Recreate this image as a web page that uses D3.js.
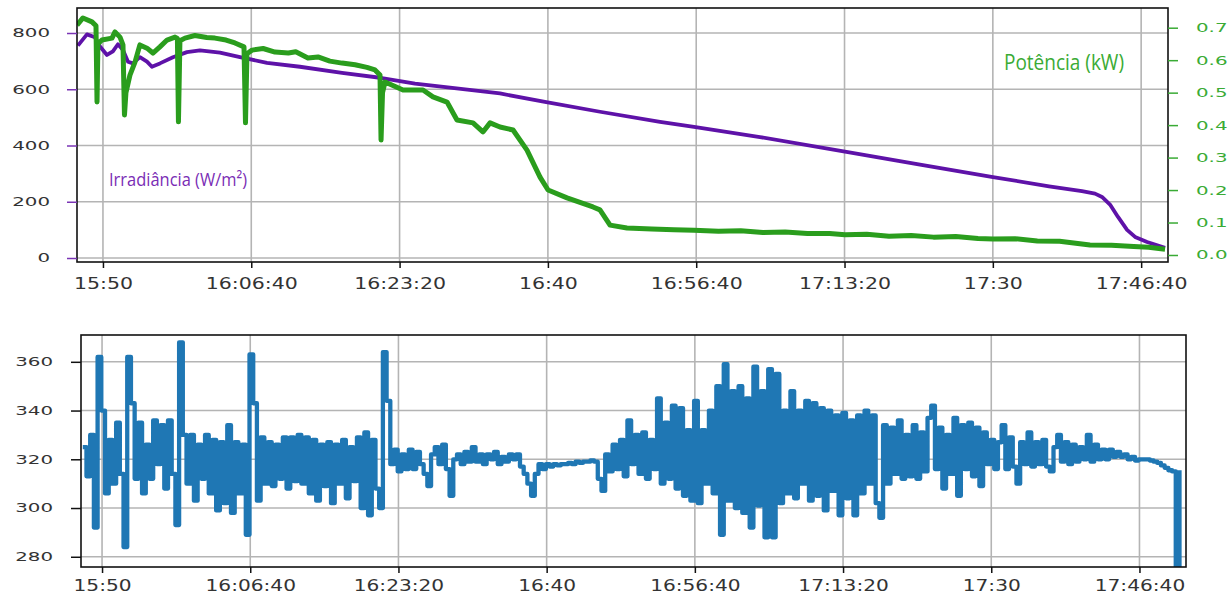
<!DOCTYPE html>
<html>
<head>
<meta charset="utf-8">
<script src="https://cdn.jsdelivr.net/npm/d3@7"></script>
<style>
  body { margin: 0; background: #fff; }
  svg { display: block; }
</style>
</head>
<body>
<div class="chart"></div>
<script>
// time axis labels (every 1000 s)
var timeTicks = ['15:50', '16:06:40', '16:23:20', '16:40', '16:56:40', '17:13:20', '17:30', '17:46:40'];

// irradiance (W/m²), times in seconds after 15:50:00
var irrTimes = [-169, -108, -54, -20, 27, 67, 101, 135, 169, 202, 249, 297, 330, 384, 472, 566,
    654, 789, 924, 1106, 1328, 1612, 1881, 2104, 2340, 2677, 2980, 3351, 3756, 3985, 4430, 5003,
    5509, 6001, 6379, 6601, 6689, 6736, 6790, 6844, 6905, 6959, 7040, 7161];
var irrValues = [755, 795, 785, 752, 722, 735, 760, 740, 698, 692, 714, 698, 680, 692, 714, 732,
    738, 730, 714, 694, 680, 658, 640, 620, 606, 585, 555, 520, 484, 466, 430, 378,
    332, 288, 255, 238, 229, 217, 190, 146, 100, 75, 57, 36];

// power (kW)
var powTimes = [-175, -135, -74, -47, -40, -34, -7, 61, 81, 115, 135, 145, 155, 182, 216, 249,
    297, 337, 384, 432, 486, 502, 509, 519, 553, 620, 700, 755, 830, 890, 951, 961, 971, 1005,
    1080, 1160, 1250, 1300, 1382, 1450, 1530, 1612, 1700, 1780, 1834, 1868, 1875, 1885, 1902,
    2023, 2158, 2225, 2320, 2387, 2495, 2562, 2610, 2677, 2765, 2859, 2947, 3001, 3129, 3304,
    3351, 3419, 3533, 3700, 3850, 3985, 4150, 4300, 4450, 4600, 4750, 4900, 5003, 5150, 5300,
    5450, 5600, 5750, 5900, 6001, 6150, 6300, 6450, 6655, 6800, 6950, 7050, 7161];
var powValues = [0.708, 0.730, 0.718, 0.706, 0.471, 0.650, 0.662, 0.668, 0.687, 0.671, 0.647, 0.431, 0.500, 0.554, 0.594, 0.647,
    0.637, 0.622, 0.641, 0.662, 0.671, 0.667, 0.410, 0.660, 0.668, 0.676, 0.670, 0.668, 0.662, 0.653, 0.641, 0.407, 0.620, 0.631,
    0.636, 0.625, 0.622, 0.626, 0.607, 0.610, 0.597, 0.591, 0.586, 0.578, 0.570, 0.554, 0.354, 0.500, 0.533,
    0.508, 0.508, 0.487, 0.471, 0.416, 0.407, 0.379, 0.407, 0.394, 0.385, 0.323, 0.240, 0.200, 0.176, 0.148,
    0.139, 0.092, 0.083, 0.080, 0.078, 0.076, 0.073, 0.075, 0.069, 0.071, 0.066, 0.066, 0.062, 0.064, 0.058,
    0.060, 0.055, 0.057, 0.051, 0.049, 0.050, 0.043, 0.042, 0.031, 0.030, 0.026, 0.024, 0.018];

// lower series, one sample every 25 s from 15:47:50
var voltStart = -130, voltStep = 25;
var voltValues = [
    325, 313, 330, 292, 362, 340, 306, 328, 310, 335,
    314, 284, 362, 343, 312, 335, 306, 326, 312, 336,
    318, 334, 308, 336, 314, 293, 368, 330, 310, 330,
    303, 326, 312, 330, 306, 328, 299, 327, 302, 334,
    298, 327, 306, 326, 289, 363, 343, 303, 329, 310,
    327, 309, 326, 312, 329, 308, 329, 311, 330, 310,
    329, 306, 328, 303, 326, 309, 327, 302, 326, 310,
    328, 304, 325, 311, 329, 300, 331, 297, 328, 308,
    300, 364, 344, 318, 324, 315, 322, 316, 324, 316,
    323, 318, 314, 309, 322, 325, 318, 326, 316, 305,
    320, 322, 318, 323, 319, 325, 319, 322, 318, 322,
    320, 323, 318, 321, 319, 322, 320, 322, 317, 314,
    310, 305, 314, 318, 316, 318, 317, 318, 317.5, 318,
    318, 318.5, 318, 319, 318.5, 319, 319, 319.5, 319, 312,
    307, 322, 315, 326, 316, 328, 313, 336, 318, 330,
    314, 331, 312, 328, 316, 345, 310, 335, 312, 342,
    308, 341, 305, 332, 303, 344, 302, 332, 310, 340,
    306, 350, 289, 359, 303, 348, 300, 350, 298, 345,
    292, 358, 301, 348, 288, 357, 288, 355, 302, 340,
    306, 348, 304, 340, 310, 344, 303, 343, 305, 341,
    299, 340, 307, 338, 297, 339, 304, 336, 297, 338,
    306, 340, 310, 338, 302, 296, 334, 310, 333, 314,
    336, 312, 330, 313, 334, 312, 331, 315, 337, 342,
    316, 333, 308, 330, 314, 337, 305, 334, 316, 335,
    313, 333, 309, 331, 318, 328, 316, 327, 334, 316,
    329, 317, 310, 327, 318, 331, 317, 327, 318, 328,
    317, 315, 325, 330, 319, 327, 318, 326, 319, 325,
    320, 330, 319, 326, 320, 324, 320, 324, 321, 323,
    321, 322, 320, 321, 319.5, 320, 320, 320, 319.5, 319,
    318.5, 317.5, 316.5, 315.5, 315, 230, 315.5];

var irrTicks = [0, 200, 400, 600, 800];
var powTicks = [0, 0.1, 0.2, 0.3, 0.4, 0.5, 0.6, 0.7];
var voltTicks = [280, 300, 320, 340, 360];

function toSec(s) {
    var p = s.split(':').map(Number);
    return (p[0] - 15) * 3600 + (p[1] - 50) * 60 + (p[2] || 0);
}
var tickSecs = timeTicks.map(toSec);

var irrData = irrTimes.map((t, i) => ({ t: t, v: irrValues[i] }));
var powData = powTimes.map((t, i) => ({ t: t, v: powValues[i] }));
var voltData = voltValues.map((v, i) => ({ t: voltStart + i * voltStep, v: v }));

var upper = { left: 77, right: 1168, top: 8, bottom: 262 };
var lower = { left: 81, right: 1186, top: 335, bottom: 567 };

var svg = d3.select('.chart')
    .append('svg')
    .attr('width', 1230)
    .attr('height', 593);

var x1 = d3.scaleLinear().domain([toSec('15:47:05'), toSec('17:49:41')]).range([upper.left, upper.right]);
var yIrr = d3.scaleLinear().domain([-14.2, 888.9]).range([upper.bottom, upper.top]);
var yPow = d3.scaleLinear().domain([-0.0216, 0.7607]).range([upper.bottom, upper.top]);
var x2 = d3.scaleLinear().domain([toSec('15:47:38'), toSec('17:51:54')]).range([lower.left, lower.right]);
var yVolt = d3.scaleLinear().domain([275.8, 371.0]).range([lower.bottom, lower.top]);

function grid(box, x, y, yTicks) {
    var g = svg.append('g').attr('stroke', '#b4b4b4').attr('stroke-width', 1.6);
    g.selectAll('.vx').data(tickSecs).enter().append('line')
        .attr('x1', d => x(d)).attr('x2', d => x(d))
        .attr('y1', box.top).attr('y2', box.bottom);
    g.selectAll('.hy').data(yTicks).enter().append('line')
        .attr('y1', d => y(d)).attr('y2', d => y(d))
        .attr('x1', box.left).attr('x2', box.right);
}

function clip(id, box) {
    svg.append('clipPath').attr('id', id)
        .append('rect')
        .attr('x', box.left).attr('y', box.top)
        .attr('width', box.right - box.left).attr('height', box.bottom - box.top);
}

function styleAxis(g, size, k, textColor, tickColor) {
    g.select('.domain').remove();
    g.selectAll('.tick line').attr('stroke', tickColor).attr('stroke-width', 1.5);
    g.selectAll('.tick text')
        .attr('font-family', 'DejaVu Sans')
        .attr('font-size', size)
        .attr('fill', textColor)
        .attr('x', function () { return +d3.select(this).attr('x') / k; })
        .attr('transform', 'scale(' + k + ',1)');
}

grid(upper, x1, yIrr, irrTicks);
grid(lower, x2, yVolt, voltTicks);
clip('clip-upper', upper);
clip('clip-lower', lower);

// lines
svg.append('path')
    .datum(irrData)
    .attr('clip-path', 'url(#clip-upper)')
    .attr('fill', 'none')
    .attr('stroke', '#5e12a8')
    .attr('stroke-width', 3.8)
    .attr('stroke-linejoin', 'round')
    .attr('d', d3.line().x(d => x1(d.t)).y(d => yIrr(d.v)));

svg.append('path')
    .datum(powData)
    .attr('clip-path', 'url(#clip-upper)')
    .attr('fill', 'none')
    .attr('stroke', '#2a9d1d')
    .attr('stroke-width', 5)
    .attr('stroke-linejoin', 'round')
    .attr('d', d3.line().x(d => x1(d.t)).y(d => yPow(d.v)));

svg.append('path')
    .datum(voltData)
    .attr('clip-path', 'url(#clip-lower)')
    .attr('fill', 'none')
    .attr('stroke', '#1f77b4')
    .attr('stroke-width', 4.3)
    .attr('stroke-linejoin', 'round')
    .attr('d', d3.line().curve(d3.curveStepAfter).x(d => x2(d.t)).y(d => yVolt(d.v)));

// frames
[upper, lower].forEach(function (b) {
    svg.append('rect')
        .attr('x', b.left).attr('y', b.top)
        .attr('width', b.right - b.left).attr('height', b.bottom - b.top)
        .attr('fill', 'none').attr('stroke', '#111').attr('stroke-width', 1.6);
});

// axes
var fmtTime = (d, i) => timeTicks[i];

svg.append('g')
    .attr('transform', 'translate(0,' + upper.bottom + ')')
    .call(d3.axisBottom(x1).tickValues(tickSecs).tickFormat(fmtTime).tickSize(6).tickPadding(10))
    .call(g => styleAxis(g, 16, 1.28, '#333', '#111'));

svg.append('g')
    .attr('transform', 'translate(' + upper.left + ',0)')
    .call(d3.axisLeft(yIrr).tickValues(irrTicks).tickSize(10).tickPadding(17))
    .call(g => styleAxis(g, 12.4, 1.6, '#333', '#7a35b5'));

svg.append('g')
    .attr('transform', 'translate(' + upper.right + ',0)')
    .call(d3.axisRight(yPow).tickValues(powTicks).tickFormat(d3.format('.1f')).tickSize(10).tickPadding(18))
    .call(g => styleAxis(g, 12.4, 1.6, '#3aab35', '#3aab35'));

svg.append('g')
    .attr('transform', 'translate(0,' + lower.bottom + ')')
    .call(d3.axisBottom(x2).tickValues(tickSecs).tickFormat(fmtTime).tickSize(6).tickPadding(7))
    .call(g => styleAxis(g, 15.5, 1.3, '#333', '#111'));

svg.append('g')
    .attr('transform', 'translate(' + lower.left + ',0)')
    .call(d3.axisLeft(yVolt).tickValues(voltTicks).tickSize(10).tickPadding(18))
    .call(g => styleAxis(g, 12.4, 1.6, '#333', '#111'));

// series labels
svg.append('text')
    .attr('x', 109).attr('y', 186)
    .attr('font-family', 'Open Sans')
    .attr('font-size', 19)
    .attr('textLength', 138)
    .attr('lengthAdjust', 'spacingAndGlyphs')
    .attr('fill', '#7a2db5')
    .text('Irradiância (W/m²)');

svg.append('text')
    .attr('x', 1004).attr('y', 70)
    .attr('font-family', 'Open Sans')
    .attr('font-size', 22)
    .attr('textLength', 120)
    .attr('lengthAdjust', 'spacingAndGlyphs')
    .attr('fill', '#3aab35')
    .text('Potência (kW)');
</script>
</body>
</html>
